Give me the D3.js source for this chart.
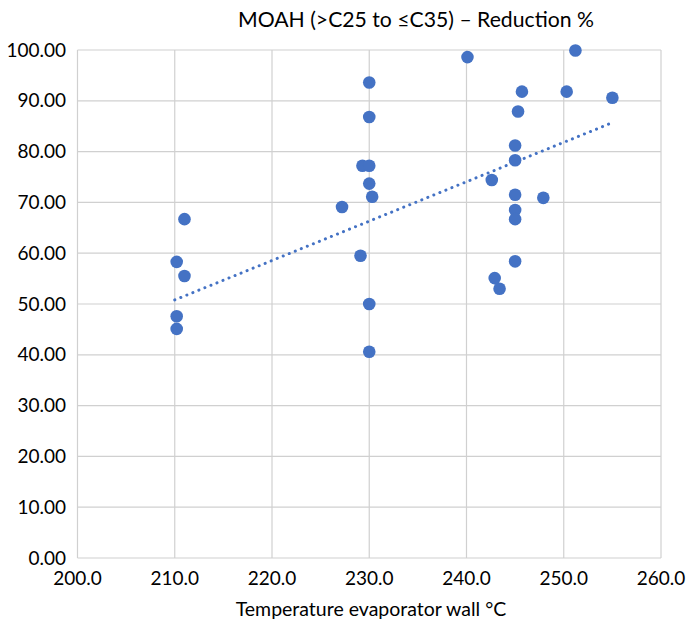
<!DOCTYPE html>
<html>
<head>
<meta charset="utf-8">
<script src="https://cdn.jsdelivr.net/npm/d3@7"></script>
<style>
  body { margin: 0; background: #fff; }
  text { font-family: Lato, "Open Sans", sans-serif; fill: #000; }
</style>
</head>
<body>
<div id="chart"></div>
<script>
// temperature of evaporator wall (°C)
var temps = [210.2, 211.0, 211.0, 210.2, 210.2,
             230.0, 230.0, 229.3, 230.0, 230.0, 230.3, 227.2, 229.1, 230.0, 230.0,
             240.1, 251.2, 245.7, 250.3, 255.0, 245.3, 245.0, 245.0, 242.6, 245.0,
             247.9, 245.0, 245.0, 245.0, 242.9, 243.4]
// reduction %
var reductions = [58.3, 55.5, 66.7, 47.6, 45.1,
                  93.6, 86.8, 77.2, 77.2, 73.7, 71.1, 69.1, 59.5, 50.0, 40.6,
                  98.6, 99.9, 91.8, 91.8, 90.6, 87.9, 81.2, 78.3, 74.4, 71.5,
                  70.9, 68.5, 66.7, 58.4, 55.1, 53.0]
// linear trendline ends
var trendX = [210.0, 255.0]
var trendY = [50.8, 85.7]
var xTicks = [200, 210, 220, 230, 240, 250, 260]
var yTicks = [0, 10, 20, 30, 40, 50, 60, 70, 80, 90, 100]

var width = 686, height = 621
var margin = {left: 77.5, right: 25, top: 50, bottom: 63}

var svg = d3.select('#chart').append('svg')
    .attr('width', width)
    .attr('height', height)

var x = d3.scaleLinear().domain([200, 260]).range([margin.left, width - margin.right])
var y = d3.scaleLinear().domain([0, 100]).range([height - margin.bottom, margin.top])

// gridlines
svg.append('g')
    .selectAll('line')
    .data(xTicks)
    .enter().append('line')
    .attr('x1', d => x(d)).attr('x2', d => x(d))
    .attr('y1', y(0)).attr('y2', y(100))
    .attr('stroke', '#d0d0d0').attr('stroke-width', 1.2)
svg.append('g')
    .selectAll('line')
    .data(yTicks)
    .enter().append('line')
    .attr('x1', x(200)).attr('x2', x(260))
    .attr('y1', d => y(d)).attr('y2', d => y(d))
    .attr('stroke', '#d0d0d0').attr('stroke-width', 1.2)

// tick labels
svg.append('g')
    .selectAll('text')
    .data(yTicks)
    .enter().append('text')
    .attr('x', x(200) - 11.5)
    .attr('y', d => y(d))
    .attr('dy', '0.35em')
    .attr('text-anchor', 'end')
    .style('font-size', '19px')
    .text(d => d3.format('.2f')(d))
svg.append('g')
    .selectAll('text')
    .data(xTicks)
    .enter().append('text')
    .attr('x', d => x(d))
    .attr('y', y(0) + 27)
    .attr('text-anchor', 'middle')
    .style('font-size', '19px')
    .text(d => d3.format('.1f')(d))

// title and axis title
svg.append('text')
    .attr('x', 416).attr('y', 27)
    .attr('text-anchor', 'middle')
    .style('font-size', '21.2px')
    .text('MOAH (>C25 to ≤C35) – Reduction %')
svg.append('text')
    .attr('x', 371).attr('y', 616)
    .attr('text-anchor', 'middle')
    .style('font-size', '19.5px')
    .text('Temperature evaporator wall °C')

// trendline
svg.append('line')
    .attr('x1', x(trendX[0])).attr('y1', y(trendY[0]))
    .attr('x2', x(trendX[1])).attr('y2', y(trendY[1]))
    .attr('stroke', '#4472c4')
    .attr('stroke-width', 3)
    .attr('stroke-linecap', 'round')
    .attr('stroke-dasharray', '0.1 6.4')

// points
var pts = temps.map((t, i) => [t, reductions[i]])
svg.append('g')
    .selectAll('circle')
    .data(pts)
    .enter().append('circle')
    .attr('cx', d => x(d[0]))
    .attr('cy', d => y(d[1]))
    .attr('r', 6.3)
    .attr('fill', '#4472c4')
</script>
</body>
</html>
